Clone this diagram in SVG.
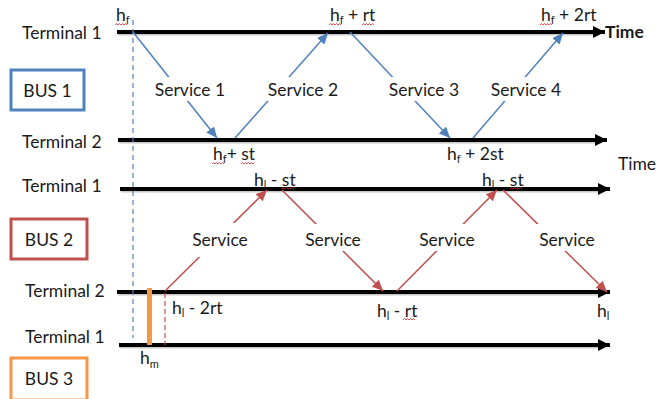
<svg xmlns="http://www.w3.org/2000/svg" width="671" height="399" viewBox="0 0 671 399">
  <defs>
    <style>
      text { font-family: Lato, "Liberation Sans", sans-serif; font-size: 17.5px; fill: #1a1a1a; }
      .sub { font-size: 11px; }
      .axis { stroke: #000; stroke-width: 4; fill: none; }
      .shadow { stroke: #9a9a9a; stroke-width: 3; opacity: 0.55; fill: none; }
      .blue { stroke: #4f81bd; stroke-width: 1.5; fill: none; }
      .red { stroke: #c0504d; stroke-width: 1.5; fill: none; }
      .gap { fill: #fff; }
      .squiggle { stroke: #e02020; stroke-width: 0.8; fill: none; }
      .label { text-anchor: middle; }
    </style>
    <marker id="axisHead" markerUnits="userSpaceOnUse" markerWidth="14" markerHeight="12" refX="12" refY="6" orient="auto">
      <path d="M0,0 L12,6 L0,12 Z" fill="#000"/>
    </marker>
    <marker id="blueHead" markerUnits="userSpaceOnUse" markerWidth="12" markerHeight="10" refX="11" refY="5" orient="auto">
      <path d="M0,0 L11,5 L0,10 Z" fill="#4f81bd"/>
    </marker>
    <marker id="redHead" markerUnits="userSpaceOnUse" markerWidth="12" markerHeight="10" refX="11" refY="5" orient="auto">
      <path d="M0,0 L11,5 L0,10 Z" fill="#c0504d"/>
    </marker>
  </defs>

  <rect width="671" height="399" fill="#fff"/>

  <!-- time axes: one per terminal -->
  <g id="axes">
    <line class="shadow" x1="118" y1="34" x2="596" y2="34"/>
    <line class="axis" x1="117" y1="32" x2="605" y2="32" marker-end="url(#axisHead)"/>
    <line class="shadow" x1="119" y1="142" x2="598" y2="142"/>
    <line class="axis" x1="118" y1="140" x2="607" y2="140" marker-end="url(#axisHead)"/>
    <line class="shadow" x1="121" y1="191" x2="601" y2="191"/>
    <line class="axis" x1="120" y1="189" x2="610" y2="189" marker-end="url(#axisHead)"/>
    <line class="shadow" x1="118" y1="294" x2="601" y2="294"/>
    <line class="axis" x1="117" y1="292" x2="610" y2="292" marker-end="url(#axisHead)"/>
    <line class="shadow" x1="120" y1="347" x2="601" y2="347"/>
    <line class="axis" x1="119" y1="345" x2="610" y2="345" marker-end="url(#axisHead)"/>
    <text x="605" y="38" font-weight="bold">Time</text>
    <text x="618" y="170">Time</text>
  </g>

  <!-- terminal names -->
  <g id="terminals">
    <text x="22" y="39">Terminal 1</text>
    <text x="22" y="148">Terminal 2</text>
    <text x="22" y="192">Terminal 1</text>
    <text x="25" y="297">Terminal 2</text>
    <text x="25" y="343">Terminal 1</text>
  </g>

  <!-- bus boxes -->
  <g id="bus1">
    <rect x="11" y="70" width="73" height="40" fill="#fff" stroke="#4f81bd" stroke-width="3"/>
    <text x="47.5" y="97" class="label">BUS 1</text>
  </g>
  <g id="bus2">
    <rect x="11" y="219" width="76" height="40" fill="#fff" stroke="#c0504d" stroke-width="3"/>
    <text x="49" y="246" class="label">BUS 2</text>
  </g>
  <g id="bus3">
    <rect x="11" y="358" width="76" height="42" fill="#fff" stroke="#f79646" stroke-width="3"/>
    <text x="49" y="385" class="label">BUS 3</text>
  </g>

  <!-- time markers -->
  <g id="markers">
    <line x1="133" y1="20" x2="133" y2="338" stroke="#4f81bd" stroke-width="1.2" stroke-dasharray="5,4"/>
    <line x1="165" y1="293" x2="165" y2="345" stroke="#c0504d" stroke-width="1.2" stroke-dasharray="5,3"/>
    <line x1="149.5" y1="288" x2="149.5" y2="345" stroke="#f79646" stroke-width="5"/>
  </g>

  <!-- service connectors -->
  <g id="connectors">
    <line class="blue" x1="133" y1="32" x2="217" y2="138" marker-end="url(#blueHead)"/>
    <line class="blue" x1="235" y1="138" x2="328" y2="33" marker-end="url(#blueHead)"/>
    <line class="blue" x1="350" y1="32" x2="450" y2="138" marker-end="url(#blueHead)"/>
    <line class="blue" x1="473" y1="138" x2="563" y2="33" marker-end="url(#blueHead)"/>

    <line class="red" x1="165" y1="291" x2="267" y2="190" marker-end="url(#redHead)"/>
    <line class="red" x1="282" y1="190" x2="383" y2="291" marker-end="url(#redHead)"/>
    <line class="red" x1="397" y1="291" x2="497" y2="190" marker-end="url(#redHead)"/>
    <line class="red" x1="503" y1="190" x2="607" y2="292" marker-end="url(#redHead)"/>

    <rect class="gap" x="152" y="77" width="76" height="24"/>
    <rect class="gap" x="265" y="77" width="76" height="24"/>
    <rect class="gap" x="387" y="77" width="74" height="24"/>
    <rect class="gap" x="489" y="77" width="74" height="24"/>
    <rect class="gap" x="189" y="223" width="61" height="34"/>
    <rect class="gap" x="303" y="224" width="61" height="27"/>
    <rect class="gap" x="417" y="224" width="60" height="27"/>
    <rect class="gap" x="537" y="224" width="60" height="27"/>

    <text x="190" y="96" class="label">Service 1</text>
    <text x="303" y="96" class="label">Service 2</text>
    <text x="424" y="96" class="label">Service 3</text>
    <text x="526" y="96" class="label">Service 4</text>
    <text x="220" y="246" class="label">Service</text>
    <text x="333" y="246" class="label">Service</text>
    <text x="447" y="246" class="label">Service</text>
    <text x="567" y="246" class="label">Service</text>
  </g>

  <!-- time labels -->
  <g id="times">
    <text x="116" y="21">h<tspan class="sub" dy="3">f</tspan></text>
    <text x="330" y="21">h<tspan class="sub" dy="3">f</tspan><tspan dy="-3"> + rt</tspan></text>
    <text x="541" y="21">h<tspan class="sub" dy="3">f</tspan><tspan dy="-3"> + 2rt</tspan></text>
    <text x="213" y="160">h<tspan class="sub" dy="3">f</tspan><tspan dy="-3">+ st</tspan></text>
    <text x="447" y="160">h<tspan class="sub" dy="3">f</tspan><tspan dy="-3"> + 2st</tspan></text>

    <text x="254" y="186">h<tspan class="sub" dy="3">l</tspan><tspan dy="-3"> - st</tspan></text>
    <text x="482" y="186">h<tspan class="sub" dy="3">l</tspan><tspan dy="-3"> - st</tspan></text>
    <text x="172" y="314">h<tspan class="sub" dy="3">l</tspan><tspan dy="-3"> - 2rt</tspan></text>
    <text x="377" y="317">h<tspan class="sub" dy="3">l</tspan><tspan dy="-3"> - rt</tspan></text>
    <text x="597" y="317">h<tspan class="sub" dy="3">l</tspan></text>
    <text x="140" y="364">h<tspan class="sub" dy="4">m</tspan></text>

    <!-- spell-check underlines -->
    <path class="squiggle" d="M115,25 l1.5,-1.5 l1.5,1.5 l1.5,-1.5 l1.5,1.5 l1.5,-1.5 l1.5,1.5 l1.5,-1.5 l1.5,1.5"/>
    <path class="squiggle" d="M329,25 l1.5,-1.5 l1.5,1.5 l1.5,-1.5 l1.5,1.5 l1.5,-1.5 l1.5,1.5 l1.5,-1.5 l1.5,1.5"/>
    <path class="squiggle" d="M362,25 l1.5,-1.5 l1.5,1.5 l1.5,-1.5 l1.5,1.5 l1.5,-1.5 l1.5,1.5 l1.5,-1.5 l1.5,1.5"/>
    <path class="squiggle" d="M540,25 l1.5,-1.5 l1.5,1.5 l1.5,-1.5 l1.5,1.5 l1.5,-1.5 l1.5,1.5 l1.5,-1.5 l1.5,1.5"/>
    <path class="squiggle" d="M212,164 l1.5,-1.5 l1.5,1.5 l1.5,-1.5 l1.5,1.5 l1.5,-1.5 l1.5,1.5 l1.5,-1.5 l1.5,1.5"/>
    <path class="squiggle" d="M241,164 l1.5,-1.5 l1.5,1.5 l1.5,-1.5 l1.5,1.5 l1.5,-1.5 l1.5,1.5 l1.5,-1.5 l1.5,1.5 l1.5,-1.5"/>
    <path class="squiggle" d="M282,189 l1.5,-1.5 l1.5,1.5 l1.5,-1.5 l1.5,1.5 l1.5,-1.5 l1.5,1.5 l1.5,-1.5 l1.5,1.5"/>
    <path class="squiggle" d="M510,189 l1.5,-1.5 l1.5,1.5 l1.5,-1.5 l1.5,1.5 l1.5,-1.5 l1.5,1.5 l1.5,-1.5 l1.5,1.5"/>
    <path class="squiggle" d="M403,320 l1.5,-1.5 l1.5,1.5 l1.5,-1.5 l1.5,1.5 l1.5,-1.5 l1.5,1.5 l1.5,-1.5 l1.5,1.5"/>
  </g>
</svg>
